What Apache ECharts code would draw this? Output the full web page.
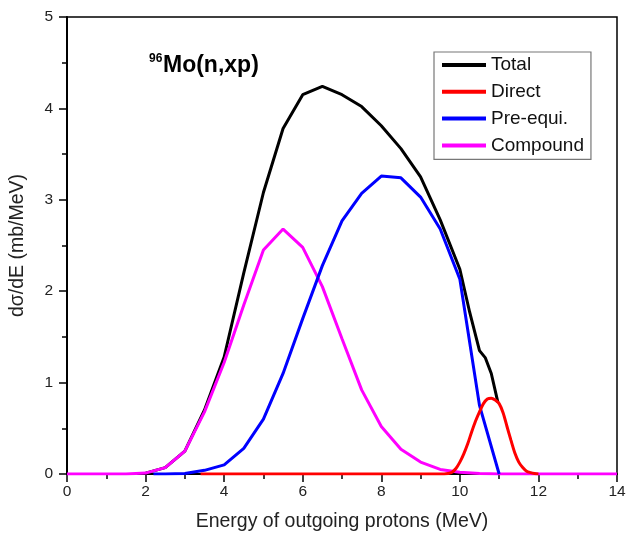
<!DOCTYPE html>
<html><head><meta charset="utf-8">
<script src="https://cdn.jsdelivr.net/npm/echarts@6/dist/echarts.min.js"></script>
<style>html,body{margin:0;padding:0;background:#fff}#c{width:635px;height:534px}</style>
</head><body><div id="c"></div>
<script>
// Energy (MeV) and dσ/dE (mb/MeV) values
const totalX = [2.0, 2.5, 3.0, 3.5, 4.0, 4.5, 5.0, 5.5, 6.0, 6.5, 7.0, 7.5, 8.0, 8.5, 9.0, 9.5, 10.0, 10.25, 10.5, 10.65, 10.8, 10.97];
const totalY = [0.01, 0.07, 0.25, 0.7, 1.28, 2.2, 3.08, 3.78, 4.15, 4.24, 4.15, 4.02, 3.81, 3.56, 3.25, 2.78, 2.24, 1.77, 1.35, 1.27, 1.1, 0.78];

const directX = [3.4, 9.6, 9.7, 9.8, 9.9, 10.0, 10.1, 10.2, 10.3, 10.4, 10.5, 10.6, 10.7, 10.8, 10.9, 11.0, 11.1, 11.2, 11.3, 11.4, 11.5, 11.6, 11.7, 11.8, 11.9, 12.0];
const directY = [0, 0, 0.005, 0.02, 0.06, 0.13, 0.22, 0.33, 0.46, 0.58, 0.68, 0.77, 0.82, 0.83, 0.81, 0.77, 0.67, 0.52, 0.37, 0.23, 0.13, 0.07, 0.03, 0.015, 0.005, 0];

const preX = [2.2, 2.5, 3.0, 3.5, 4.0, 4.5, 5.0, 5.5, 6.0, 6.5, 7.0, 7.5, 8.0, 8.5, 9.0, 9.5, 10.0, 10.5, 11.0];
const preY = [0, 0, 0.005, 0.04, 0.1, 0.28, 0.6, 1.1, 1.7, 2.28, 2.77, 3.07, 3.26, 3.24, 3.03, 2.68, 2.13, 0.75, 0];

const compX = [0, 0.5, 1.0, 1.5, 2.0, 2.5, 3.0, 3.5, 4.0, 4.5, 5.0, 5.5, 6.0, 6.5, 7.0, 7.5, 8.0, 8.5, 9.0, 9.5, 10.0, 10.5, 11.0, 11.5, 12.0, 12.5, 13.0, 13.5, 14.0];
const compY = [0, 0, 0, 0, 0.01, 0.07, 0.25, 0.68, 1.22, 1.85, 2.45, 2.68, 2.48, 2.05, 1.48, 0.92, 0.52, 0.27, 0.13, 0.05, 0.02, 0.005, 0, 0, 0, 0, 0, 0, 0];

const xTicks = [0, 2, 4, 6, 8, 10, 12, 14];
const yTicks = [0, 1, 2, 3, 4, 5];

const zip = (xs, ys) => xs.map((x, i) => [x, ys[i]]);
const FONT = 'Arial, "Liberation Sans", sans-serif';

const chart = echarts.init(document.getElementById('c'));
chart.setOption({
  animation: false,
  backgroundColor: '#fff',
  grid: { left: 67, right: 18, top: 17, bottom: 60, outerBoundsMode: 'none', show: true, borderColor: '#000', borderWidth: 1.5, backgroundColor: 'transparent' },
  xAxis: {
    type: 'value', min: xTicks[0], max: xTicks[xTicks.length - 1], interval: 2,
    name: 'Energy of outgoing protons (MeV)', nameLocation: 'middle', nameGap: 38,
    nameTextStyle: { fontFamily: FONT, fontSize: 19.5, color: '#222' },
    axisLine: { onZero: false, lineStyle: { color: '#000', width: 2 } },
    axisTick: { show: true, inside: false, length: 8, lineStyle: { color: '#000', width: 1.5 } },
    minorTick: { show: true, splitNumber: 2, length: 5, lineStyle: { color: '#000', width: 1.5 } },
    axisLabel: { fontFamily: FONT, fontSize: 15.5, color: '#222', margin: 10 },
    splitLine: { show: false }
  },
  yAxis: {
    type: 'value', min: yTicks[0], max: yTicks[yTicks.length - 1], interval: 1,
    name: 'dσ/dE (mb/MeV)', nameLocation: 'middle', nameGap: 39,
    nameTextStyle: { fontFamily: FONT, fontSize: 19.5, color: '#222' },
    axisLine: { show: true, onZero: false, lineStyle: { color: '#000', width: 2 } },
    axisTick: { show: true, inside: false, length: 8, lineStyle: { color: '#000', width: 1.5 } },
    minorTick: { show: true, splitNumber: 2, length: 5, lineStyle: { color: '#000', width: 1.5 } },
    axisLabel: { fontFamily: FONT, fontSize: 15.5, color: '#222', margin: 14 },
    splitLine: { show: false }
  },
  legend: {
    data: ['Total', 'Direct', 'Pre-equi.', 'Compound'],
    orient: 'vertical', left: 434, top: 52,
    icon: 'rect', itemWidth: 44, itemHeight: 4, itemGap: 6.8,
    padding: [3, 7, 4, 8],
    borderColor: '#777', borderWidth: 1.2,
    textStyle: { fontFamily: FONT, fontSize: 19, color: '#111', lineHeight: 20 }
  },
  graphic: [
    { type: 'text', left: 149, top: 53, style: { text: '96', font: 'bold 12px ' + FONT, fill: '#000' } },
    { type: 'text', left: 163, top: 54, style: { text: 'Mo(n,xp)', font: 'bold 23px ' + FONT, fill: '#000' } }
  ],
  series: [
    { name: 'Total', type: 'line', data: zip(totalX, totalY), showSymbol: false, color: '#000', lineStyle: { width: 3, color: '#000' } },
    { name: 'Compound', type: 'line', data: zip(compX, compY), showSymbol: false, color: '#ff00ff', lineStyle: { width: 3, color: '#ff00ff' } },
    { name: 'Pre-equi.', type: 'line', data: zip(preX, preY), showSymbol: false, color: '#0000ff', lineStyle: { width: 3, color: '#0000ff' } },
    { name: 'Direct', type: 'line', data: zip(directX, directY), showSymbol: false, smooth: 0.3, color: '#ff0000', lineStyle: { width: 3, color: '#ff0000' } }
  ]
});
</script></body></html>
